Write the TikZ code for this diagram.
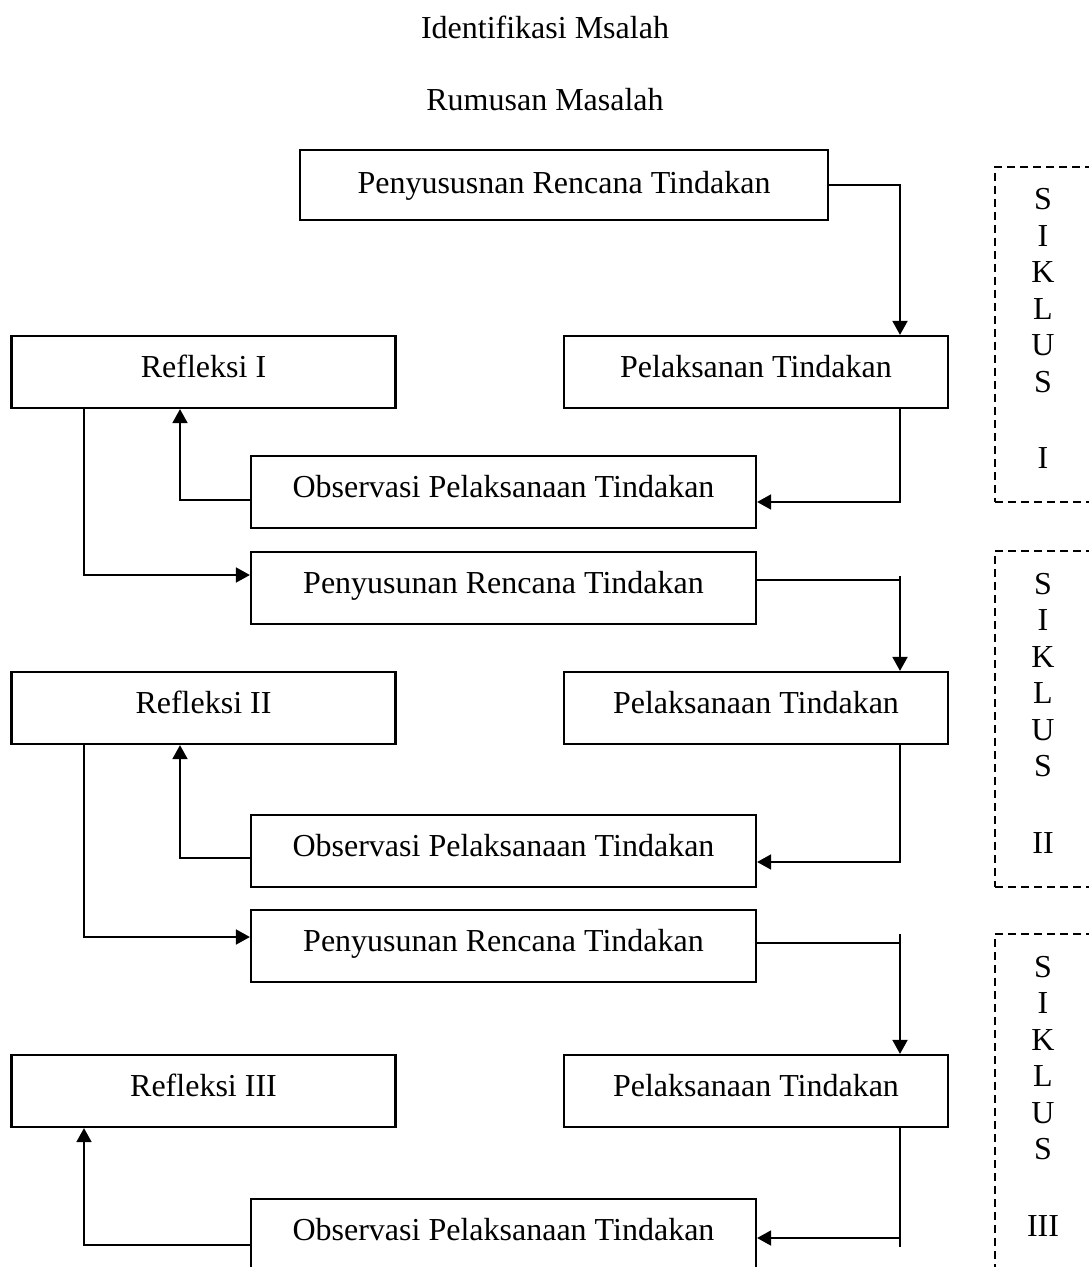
\documentclass[tikz,border=0pt]{standalone}
\usepackage{fontspec}
\setmainfont{Liberation Serif}
\usepackage{tikz}
\usetikzlibrary{positioning,shapes,arrows.meta}
\tikzstyle{squared} = [rectangle, minimum height=36pt, text height=10pt, text depth=5pt, text centered, draw=black, line width=1.1pt]
\tikzstyle{wide} = [squared, minimum width=252.5pt]
\tikzstyle{narrow} = [squared, minimum width=192pt]
\tikzstyle{siklus} = [rectangle, draw=black, dash pattern=on 4pt off 2.5pt, line width=0.6pt, minimum width=48pt, minimum height=168pt, align=center, text depth=6pt, font=\fontsize{16}{18.25}\selectfont]
\tikzstyle{judul} = [inner sep=0pt]
\tikzstyle{connect} = [line width=0.9pt, -{Triangle[length=7pt,width=7.5pt]}]

\begin{document}
\begin{tikzpicture}[x=0.5pt, y=-0.5pt, node distance=276.25pt, font=\fontsize{16}{19}\selectfont]
			\useasboundingbox (0,0) rectangle (1088,1267);
			\node (ident) [judul] at (545,27) {Identifikasi Msalah};
			\node (rumus) [judul] at (545,100) {Rumusan Masalah};
			%----------------------------------------------- siklus I
			\node (pen1) [squared, minimum width=264pt, minimum height=35pt, text depth=1pt] at (564,185) {Penyususnan Rencana Tindakan};
			\node (pel1) [narrow] at (756,372) {Pelaksanan Tindakan};
			\node (ref1) [narrow, left of=pel1] {Refleksi I};
			\node (obs1) [wide] at (503.5,492) {Observasi Pelaksanaan Tindakan};
			\node (sik1) [siklus, minimum height=167.5pt] at (1043,334.5) {S\\I\\K\\L\\U\\S\\[20pt]I};
			%----------------------------------------------- siklus II
			\node (pen2) [wide, below of=obs1, node distance=48pt] {Penyusunan Rencana Tindakan};
			\node (pel2) [narrow] at (756,708) {Pelaksanaan Tindakan};
			\node (ref2) [narrow, left of=pel2] {Refleksi II};
			\node (obs2) [wide] at (503.5,851) {Observasi Pelaksanaan Tindakan};
			\node (sik2) [siklus] at (1043,719) {S\\I\\K\\L\\U\\S\\[20pt]II};
			%----------------------------------------------- siklus III
			\node (pen3) [wide, below of=obs2, node distance=47.5pt] {Penyusunan Rencana Tindakan};
			\node (pel3) [narrow] at (756,1091) {Pelaksanaan Tindakan};
			\node (ref3) [narrow, left of=pel3] {Refleksi III};
			\node (obs3) [wide] at (503.5,1235) {Observasi Pelaksanaan Tindakan};
			\node (sik3) [siklus] at (1043,1102) {S\\I\\K\\L\\U\\S\\[20pt]III};
			%-----------------------------------------------
			\draw [connect] (pen1.east) -| ([xshift=72pt]pel1.north);
			\draw [connect] ([xshift=72pt]pel1.south) |- ([yshift=-5pt]obs1.east);
			\draw [connect] ([yshift=-4pt]obs1.west) -| ([xshift=-11.75pt]ref1.south);
			\draw [connect] ([xshift=-59.75pt]ref1.south) |- ([yshift=6.5pt]pen2.west);
			%-----------------------------------------------
			\draw [connect] ([yshift=4pt]pen2.east) -- ([xshift=72pt,yshift=4pt]pel2.north |- pen2.east) ++(0,2pt) -- ([xshift=72pt]pel2.north);
			\draw [connect] ([xshift=72pt]pel2.south) |- ([yshift=-5.5pt]obs2.east);
			\draw [connect] ([yshift=-3.5pt]obs2.west) -| ([xshift=-11.75pt]ref2.south);
			\draw [connect] ([xshift=-59.75pt]ref2.south) |- ([yshift=4.5pt]pen3.west);
			%-----------------------------------------------
			\draw [connect] ([yshift=1.5pt]pen3.east) -- ([xshift=72pt,yshift=1.5pt]pel3.north |- pen3.east) ++(0,4.5pt) -- ([xshift=72pt]pel3.north);
			\draw [connect] ([xshift=72pt]pel3.south) -- ([xshift=72pt,yshift=-6pt]pel3.south |- obs3.east) ++(0,4.5pt) -- ([yshift=-1.5pt]obs3.east);
			\draw [connect] ([yshift=-5pt]obs3.west) -| ([xshift=-59.75pt]ref3.south);
\end{tikzpicture}
\end{document}
